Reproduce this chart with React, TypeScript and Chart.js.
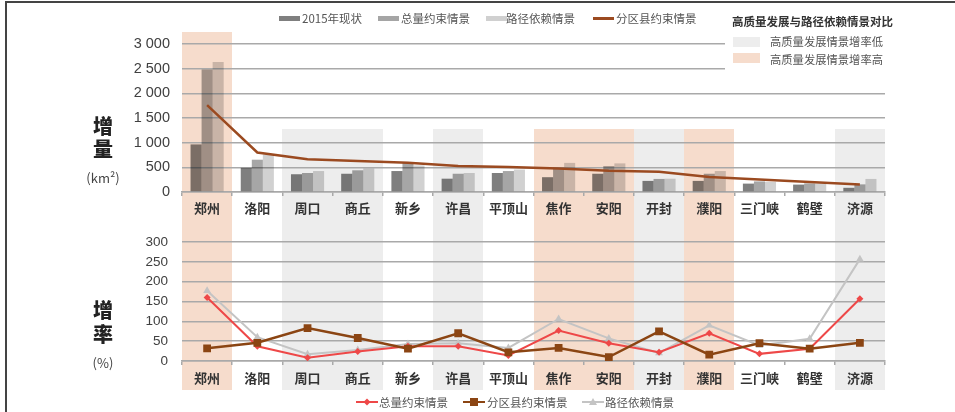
import React, { useEffect, useRef } from 'react';
import { Chart, registerables } from 'chart.js';
Chart.register(...registerables);

const categories = ['郑州', '洛阳', '周口', '商丘', '新乡', '许昌', '平顶山', '焦作', '安阳', '开封', '濮阳', '三门峡', '鹤壁', '济源'];

// increment (km²)
const base2015 = [965, 490, 360, 370, 425, 270, 385, 300, 370, 225, 225, 170, 150, 85];
const totalConstraint = [2485, 655, 385, 440, 590, 370, 425, 495, 525, 265, 370, 215, 175, 155];
const pathDependence = [2635, 760, 425, 475, 540, 385, 455, 590, 580, 270, 425, 205, 175, 265];
const countyConstraint = [1760, 800, 665, 630, 595, 525, 505, 475, 430, 410, 305, 255, 205, 150];

// growth rate (%)
const totalRate = [160, 37, 8, 24, 37, 37, 14, 77, 45, 22, 70, 18, 31, 157];
const countyRate = [32, 46, 83, 58, 31, 70, 22, 33, 10, 75, 16, 45, 31, 46];
const pathRate = [177, 60, 17, 28, 43, 45, 33, 106, 57, 20, 90, 39, 56, 257];

// comparison classes
const highBands = [0, 7, 8, 10];
const lowBands = [2, 3, 5, 9, 13];

const PEACH = '#f6dccc';
const GRAYBAND = '#ededed';
const GRID = '#a9a9a9';
const CJK = '"Noto Sans CJK SC", sans-serif';

function bandPlugin(id: string, extent: (chart: any, i: number) => [number, number]) {
  return {
    id,
    beforeDraw(chart: any) {
      const x = chart.scales.x;
      const ctx = chart.ctx;
      const w = x.getPixelForValue(1) - x.getPixelForValue(0);
      ctx.save();
      const draw = (list: number[], color: string) =>
        list.forEach((i) => {
          const cx = x.getPixelForValue(i);
          const [t, b] = extent(chart, i);
          const l = Math.round(cx - w / 2);
          const r = Math.round(cx + w / 2);
          ctx.fillStyle = color;
          ctx.fillRect(l, Math.round(t), r - l, Math.round(b - t));
        });
      draw(lowBands, GRAYBAND);
      draw(highBands, PEACH);
      ctx.restore();
    },
  };
}

const fmt = (v: number) => String(v).replace(/\B(?=(\d{3})+(?!\d))/g, ' ');

export default function App() {
  const topRef = useRef<HTMLCanvasElement>(null);
  const botRef = useRef<HTMLCanvasElement>(null);

  useEffect(() => {
    const xTickFont = { family: CJK, size: 13, weight: 'bold' as const };
    const yTickFontTop = { family: '"Liberation Sans", sans-serif', size: 14.5 };
    const yTickFontBot = { family: '"Liberation Sans", sans-serif', size: 13.5 };

    const top = new Chart(topRef.current!, {
      type: 'bar',
      data: {
        labels: categories,
        datasets: [
          { type: 'line', label: '分区县约束情景', data: countyConstraint, borderColor: '#9b4a20', borderWidth: 2.5, pointRadius: 0, order: 0 } as any,
          { label: '2015年现状', data: base2015, backgroundColor: 'rgba(0,0,0,0.50)', order: 1 },
          { label: '总量约束情景', data: totalConstraint, backgroundColor: 'rgba(0,0,0,0.35)', order: 1 },
          { label: '路径依赖情景', data: pathDependence, backgroundColor: 'rgba(0,0,0,0.18)', order: 1 },
        ],
      },
      options: {
        animation: false,
        responsive: false,
        maintainAspectRatio: false,
        layout: { padding: { left: 0, right: 70, top: 44, bottom: 0 } },
        plugins: { legend: { display: false }, tooltip: { enabled: false } },
        datasets: { bar: { barPercentage: 1, categoryPercentage: 0.66 } },
        scales: {
          x: {
            offset: true,
            grid: { offset: true, drawOnChartArea: false, drawTicks: true, tickLength: 4, color: GRID, lineWidth: 1.5 },
            border: { display: true, color: GRID, width: 1.5 },
            ticks: { padding: 4, font: xTickFont, color: '#333', autoSkip: false, maxRotation: 0 },
            afterFit: (s: any) => { s.height = 28; },
          },
          y: {
            min: 0,
            max: 3000,
            ticks: { stepSize: 500, autoSkip: false, padding: 12, font: yTickFontTop, color: '#404040', callback: (v: any) => fmt(Number(v)) },
            grid: { color: GRID, lineWidth: 1.5, drawTicks: false },
            border: { display: false },
            afterFit: (s: any) => { s.width = 182; },
          },
        },
      },
      plugins: [
        bandPlugin('bandsTop', (chart, i) => {
          const t = i === 0 ? chart.chartArea.top - 12 : chart.scales.y.getPixelForValue(1280);
          return [t, chart.height];
        }),
      ],
    } as any);

    const bot = new Chart(botRef.current!, {
      type: 'line',
      data: {
        labels: categories,
        datasets: [
          { label: '分区县约束情景', data: countyRate, borderColor: '#8b4513', backgroundColor: '#8b4513', borderWidth: 2.5, pointStyle: 'rect', pointRadius: 5.5, pointBorderWidth: 0 },
          { label: '总量约束情景', data: totalRate, borderColor: '#ee4848', backgroundColor: '#ee4848', borderWidth: 2, pointStyle: 'rectRot', pointRadius: 3.5, pointBorderWidth: 0 },
          { label: '路径依赖情景', data: pathRate, borderColor: '#c4c4c4', backgroundColor: '#c4c4c4', borderWidth: 2, pointStyle: 'triangle', pointRadius: 4.5, pointBorderWidth: 0 },
        ],
      },
      options: {
        animation: false,
        responsive: false,
        maintainAspectRatio: false,
        layout: { padding: { left: 0, right: 70, top: 21, bottom: 0 } },
        plugins: { legend: { display: false }, tooltip: { enabled: false } },
        scales: {
          x: {
            offset: true,
            grid: { offset: true, drawOnChartArea: false, drawTicks: true, tickLength: 4, color: GRID, lineWidth: 1.5 },
            border: { display: true, color: GRID, width: 1.5 },
            ticks: { padding: 5, font: xTickFont, color: '#333', autoSkip: false, maxRotation: 0 },
            afterFit: (s: any) => { s.height = 51; },
          },
          y: {
            min: 0,
            max: 300,
            ticks: { stepSize: 50, autoSkip: false, padding: 14, font: yTickFontBot, color: '#404040' },
            grid: { color: GRID, lineWidth: 1.5, drawTicks: false },
            border: { display: false },
            afterFit: (s: any) => { s.width = 182; },
          },
        },
      },
      plugins: [
        bandPlugin('bandsBot', (chart) => [0, chart.chartArea.bottom + 29]),
      ],
    } as any);

    return () => {
      top.destroy();
      bot.destroy();
    };
  }, []);

  const txt: React.CSSProperties = { position: 'absolute', fontFamily: CJK, fontSize: 11.5, color: '#555', whiteSpace: 'nowrap', lineHeight: '14px' };
  const big: React.CSSProperties = { position: 'absolute', fontFamily: CJK, fontSize: 20, fontWeight: 900, color: '#222', width: 30, textAlign: 'center', left: 88, lineHeight: '22px' };
  const unit: React.CSSProperties = { position: 'absolute', fontFamily: CJK, fontSize: 13, color: '#444', width: 60, textAlign: 'center', left: 73, lineHeight: '16px' };

  const box = (left: number, color: string) => (
    <div style={{ position: 'absolute', left, top: 16, width: 21, height: 5, background: color }} />
  );

  const lineMarker = (left: number, color: string, shape: 'diamond' | 'square' | 'triangle') => (
    <svg style={{ position: 'absolute', left, top: 396 }} width={22} height={12}>
      <line x1={0} y1={6} x2={22} y2={6} stroke={color} strokeWidth={2} />
      {shape === 'diamond' && <polygon points="11,2.5 14.5,6 11,9.5 7.5,6" fill={color} />}
      {shape === 'square' && <rect x={7} y={2} width={8} height={8} fill={color} />}
      {shape === 'triangle' && <polygon points="11,2 15,9 7,9" fill={color} />}
    </svg>
  );

  return (
    <div style={{ position: 'fixed', left: 0, top: 0, width: 955, height: 412, background: '#fff', overflow: 'hidden' }}>
      <canvas ref={topRef} width={955} height={220} style={{ position: 'absolute', left: 0, top: 0, width: 955, height: 220 }} />
      <canvas ref={botRef} width={955} height={192} style={{ position: 'absolute', left: 0, top: 220, width: 955, height: 192 }} />

      {/* frame */}
      <div style={{ position: 'absolute', left: 5, top: 1, width: 948, height: 420, borderTop: '2px solid #444', borderLeft: '2px solid #444' }} />

      {/* top legend */}
      {box(279, '#7f7f7f')}
      <div style={{ ...txt, left: 302, top: 11 }}>2015年现状</div>
      {box(378, '#a5a5a5')}
      <div style={{ ...txt, left: 401, top: 11 }}>总量约束情景</div>
      {box(486, '#d0d0d0')}
      <div style={{ ...txt, left: 506, top: 11 }}>路径依赖情景</div>
      <div style={{ position: 'absolute', left: 593, top: 17, width: 21, height: 2.5, background: '#9b4a20' }} />
      <div style={{ ...txt, left: 616, top: 11 }}>分区县约束情景</div>

      {/* right legend */}
      <div style={{ position: 'absolute', left: 725, top: 8, width: 222, height: 65, background: '#fff' }} />
      <div style={{ ...txt, left: 732, top: 14, fontWeight: 'bold', color: '#333', fontSize: 11.5 }}>高质量发展与路径依赖情景对比</div>
      <div style={{ position: 'absolute', left: 733, top: 37, width: 27, height: 10, background: GRAYBAND }} />
      <div style={{ ...txt, left: 770, top: 34, fontSize: 11.3 }}>高质量发展情景增率低</div>
      <div style={{ position: 'absolute', left: 733, top: 53, width: 27, height: 10, background: PEACH }} />
      <div style={{ ...txt, left: 770, top: 52, fontSize: 11.3 }}>高质量发展情景增率高</div>

      {/* axis titles */}
      <div style={{ ...big, top: 115 }}>增</div>
      <div style={{ ...big, top: 138 }}>量</div>
      <div style={{ ...unit, top: 170 }}>(km²)</div>
      <div style={{ ...big, top: 299 }}>增</div>
      <div style={{ ...big, top: 323 }}>率</div>
      <div style={{ ...unit, top: 355 }}>(%)</div>

      {/* bottom legend */}
      {lineMarker(356, '#ee4848', 'diamond')}
      <div style={{ ...txt, left: 379, top: 395 }}>总量约束情景</div>
      {lineMarker(463, '#8b4513', 'square')}
      <div style={{ ...txt, left: 487, top: 395 }}>分区县约束情景</div>
      {lineMarker(582, '#c4c4c4', 'triangle')}
      <div style={{ ...txt, left: 605, top: 395 }}>路径依赖情景</div>
    </div>
  );
}
